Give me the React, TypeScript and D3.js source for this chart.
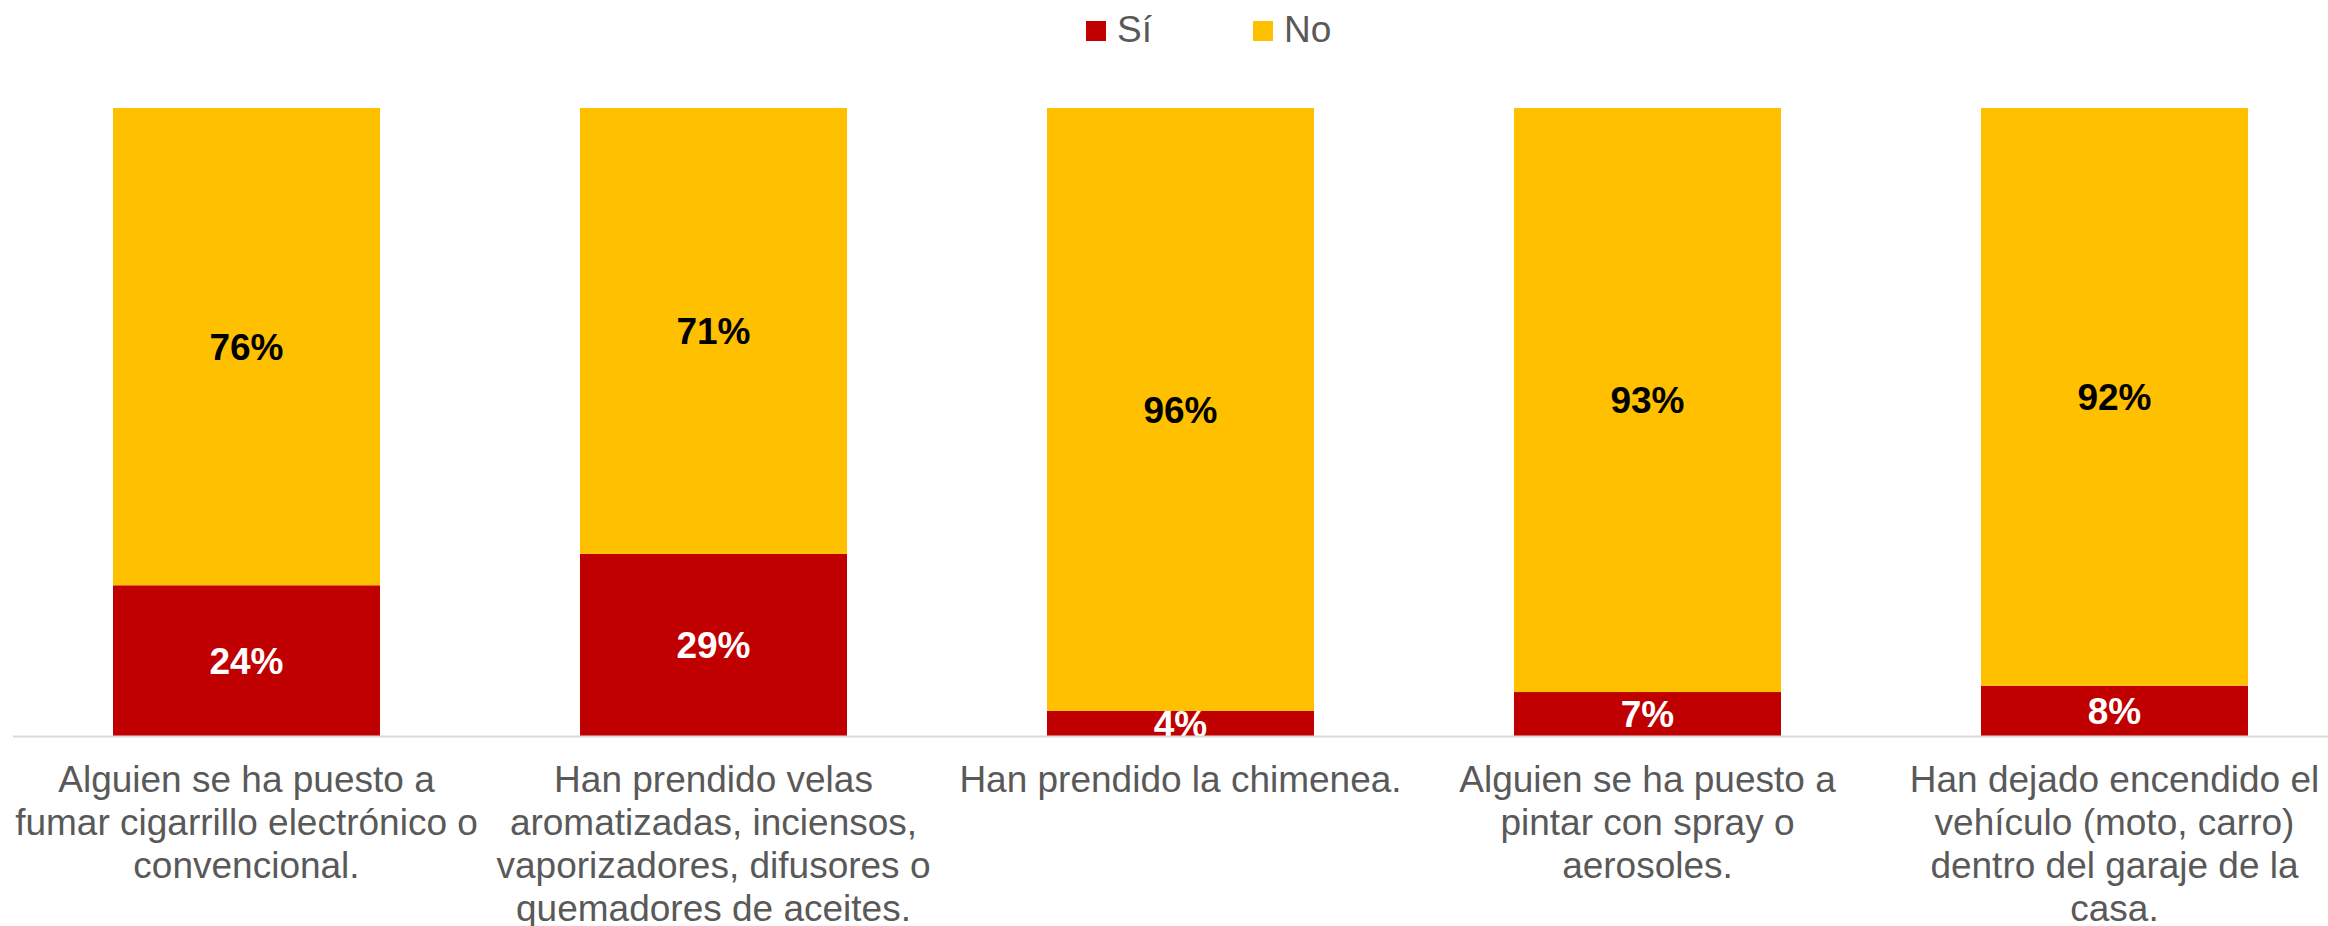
import React, { useEffect, useRef } from 'react';
import * as d3 from 'd3';

// Categories (line breaks as in the original chart)
const categories: string[] = [
  'Alguien se ha puesto a\nfumar cigarrillo electrónico o\nconvencional.',
  'Han prendido velas\naromatizadas, inciensos,\nvaporizadores, difusores o\nquemadores de aceites.',
  'Han prendido la chimenea.',
  'Alguien se ha puesto a\npintar con spray o\naerosoles.',
  'Han dejado encendido el\nvehículo (moto, carro)\ndentro del garaje de la\ncasa.',
];

const siValues: number[] = [24, 29, 4, 7, 8];
const noValues: number[] = [76, 71, 96, 93, 92];

const seriesNames: string[] = ['Sí', 'No'];
const seriesColors: string[] = ['#C00000', '#FFC000'];
const labelColors: string[] = ['#FFFFFF', '#000000'];

const FONT = '"Liberation Sans", Arial, sans-serif';

const App: React.FC = () => {
  const ref = useRef<SVGSVGElement | null>(null);

  useEffect(() => {
    document.body.style.margin = '0';
    if (!ref.current) return;
    const svg = d3.select(ref.current);
    svg.selectAll('*').remove();

    const width = 2328;
    const height = 926;
    const plotTop = 108;
    const plotBottom = 736;

    const x = d3.scaleBand<string>()
      .domain(categories)
      .range([13, 2348])
      .paddingInner(200 / 467)
      .paddingOuter(100 / 467);

    const y = d3.scaleLinear().domain([0, 100]).range([plotBottom, plotTop]);

    const rows = categories.map((c, i) => ({ cat: c, Sí: siValues[i], No: noValues[i] }));
    const stack = d3.stack<any>().keys(seriesNames)(rows);

    svg.attr('width', width).attr('height', height).style('display', 'block');

    svg.append('defs').append('clipPath').attr('id', 'plotClip')
      .append('rect')
      .attr('x', 0).attr('y', plotTop - 5)
      .attr('width', width).attr('height', plotBottom - plotTop + 5);

    // Bars
    stack.forEach((layer, si) => {
      svg.append('g')
        .attr('fill', seriesColors[si])
        .selectAll('rect')
        .data(layer)
        .enter()
        .append('rect')
        .attr('x', (d: any) => x(d.data.cat) || 0)
        .attr('y', (d) => y(d[1]))
        .attr('width', x.bandwidth())
        .attr('height', (d) => y(d[0]) - y(d[1]));
    });

    // Data labels
    const labels = svg.append('g').attr('clip-path', 'url(#plotClip)');
    stack.forEach((layer, si) => {
      labels.selectAll(null)
        .data(layer)
        .enter()
        .append('text')
        .attr('x', (d: any) => (x(d.data.cat) || 0) + x.bandwidth() / 2)
        .attr('y', (d) => (y(d[0]) + y(d[1])) / 2)
        .attr('dy', '0.36em')
        .attr('text-anchor', 'middle')
        .style('font-family', FONT)
        .style('font-size', '37px')
        .style('font-weight', 'bold')
        .style('fill', labelColors[si])
        .text((d) => `${Math.round(d[1] - d[0])}%`);
    });

    // Axis line
    svg.append('line')
      .attr('x1', 13).attr('x2', width)
      .attr('y1', plotBottom + 0.5).attr('y2', plotBottom + 0.5)
      .attr('stroke', '#D9D9D9')
      .attr('stroke-width', 2);

    // Category labels
    const cl = svg.append('g');
    categories.forEach((c) => {
      const t = cl.append('text')
        .attr('text-anchor', 'middle')
        .style('font-family', FONT)
        .style('font-size', '37px')
        .style('fill', '#595959');
      c.split('\n').forEach((line, li) => {
        t.append('tspan')
          .attr('x', (x(c) || 0) + x.bandwidth() / 2)
          .attr('y', 792 + li * 43)
          .text(line);
      });
    });

    // Legend
    const legend = svg.append('g');
    seriesNames.forEach((name, i) => {
      const lx = 1086 + i * 167;
      legend.append('rect')
        .attr('x', lx).attr('y', 21)
        .attr('width', 20).attr('height', 20)
        .attr('fill', seriesColors[i]);
      legend.append('text')
        .attr('x', lx + 31).attr('y', 42)
        .style('font-family', FONT)
        .style('font-size', '37px')
        .style('fill', '#595959')
        .text(name);
    });
  }, []);

  return <svg ref={ref}></svg>;
};

export default App;
